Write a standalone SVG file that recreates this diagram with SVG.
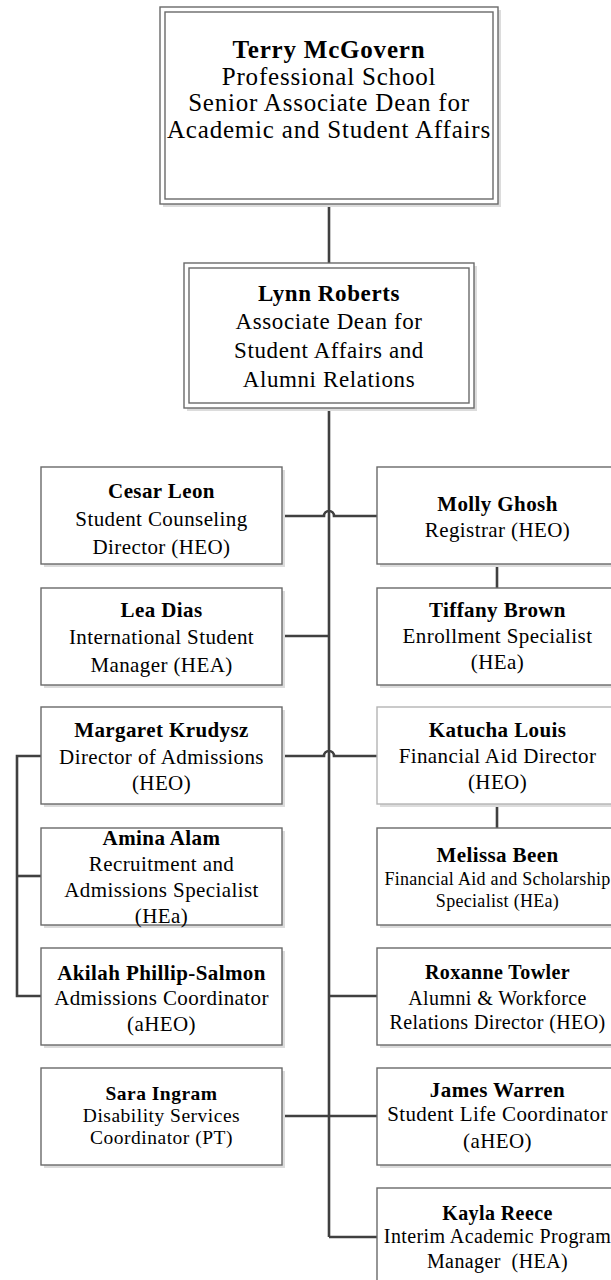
<svg xmlns="http://www.w3.org/2000/svg" width="611" height="1280" viewBox="0 0 611 1280">
<style>
.bg{fill:#ffffff}
.sh{fill:#dcdcdc}
.bx{fill:#ffffff;stroke:#6a6a6a;stroke-width:1.4}
.bxl{fill:#ffffff;stroke:#b4b4b4;stroke-width:1.4}
.cn{fill:none;stroke:#404040;stroke-width:2.6}
text{font-family:"Liberation Serif","Times New Roman",serif;fill:#000;text-anchor:middle}
.t1{font-size:25px;letter-spacing:0.8px}
.t2{font-size:23px;letter-spacing:0.6px}
.t3{font-size:21px;letter-spacing:0.4px}
.t4{font-size:18px;letter-spacing:0.3px}
.t5{font-size:20px;letter-spacing:0.4px}
.t6{font-size:19.5px;letter-spacing:0.5px}
.b{font-weight:bold}
</style>
<rect class="bg" x="0" y="0" width="611" height="1280"/>
<g id="connectors">
<path class="cn" d="M329,204 V263"/>
<path class="cn" d="M329,408 V1237"/>
<path class="cn" d="M282,516 H324 A5,5 0 0 1 334,516 H377"/>
<path class="cn" d="M282,636 H329"/>
<path class="cn" d="M497,564 V588"/>
<path class="cn" d="M282,756 H324 A5,5 0 0 1 334,756 H377"/>
<path class="cn" d="M497,804 V828"/>
<path class="cn" d="M41,756 H17 V996 H41"/>
<path class="cn" d="M17,876 H41"/>
<path class="cn" d="M329,996 H377"/>
<path class="cn" d="M282,1116 H377"/>
<path class="cn" d="M329,1237 H377"/>
</g>
<g id="terry">
<rect class="sh" x="163" y="10" width="338" height="197"/>
<rect class="bx" x="160" y="7" width="338" height="197"/>
<rect class="bx" x="165" y="12" width="328" height="187"/>
<text class="t1 b" x="329" y="58">Terry McGovern</text>
<text class="t1" x="329" y="84.5">Professional School</text>
<text class="t1" x="329" y="111">Senior Associate Dean for</text>
<text class="t1" x="329" y="137.5">Academic and Student Affairs</text>
</g>
<g id="lynn">
<rect class="sh" x="187" y="266" width="290" height="145"/>
<rect class="bx" x="184" y="263" width="290" height="145"/>
<rect class="bx" x="189" y="268" width="280" height="135"/>
<text class="t2 b" x="329" y="301">Lynn Roberts</text>
<text class="t2" x="329" y="329">Associate Dean for</text>
<text class="t2" x="329" y="358">Student Affairs and</text>
<text class="t2" x="329" y="387">Alumni Relations</text>
</g>
<g id="cesar">
<rect class="sh" x="44" y="470" width="241" height="97"/>
<rect class="bx" x="41" y="467" width="241" height="97"/>
<text class="t3 b" x="161.5" y="498">Cesar Leon</text>
<text class="t3" x="161.5" y="526">Student Counseling</text>
<text class="t3" x="161.5" y="554">Director (HEO)</text>
</g>
<g id="molly">
<rect class="sh" x="380" y="470" width="241" height="97"/>
<rect class="bx" x="377" y="467" width="241" height="97"/>
<text class="t3 b" x="497.5" y="511">Molly Ghosh</text>
<text class="t3" x="497.5" y="537">Registrar (HEO)</text>
</g>
<g id="lea">
<rect class="sh" x="44" y="591" width="241" height="97"/>
<rect class="bx" x="41" y="588" width="241" height="97"/>
<text class="t3 b" x="161.5" y="617">Lea Dias</text>
<text class="t3" x="161.5" y="644">International Student</text>
<text class="t3" x="161.5" y="672">Manager (HEA)</text>
</g>
<g id="tiffany">
<rect class="sh" x="380" y="591" width="241" height="97"/>
<rect class="bx" x="377" y="588" width="241" height="97"/>
<text class="t3 b" x="497.5" y="617">Tiffany Brown</text>
<text class="t3" x="497.5" y="643">Enrollment Specialist</text>
<text class="t3" x="497.5" y="669">(HEa)</text>
</g>
<g id="margaret">
<rect class="sh" x="44" y="710" width="241" height="97"/>
<rect class="bx" x="41" y="707" width="241" height="97"/>
<text class="t3 b" x="161.5" y="737">Margaret Krudysz</text>
<text class="t3" x="161.5" y="764">Director of Admissions</text>
<text class="t3" x="161.5" y="790">(HEO)</text>
</g>
<g id="katucha">
<rect class="sh" x="380" y="710" width="241" height="97"/>
<rect class="bxl" x="377" y="707" width="241" height="97"/>
<text class="t3 b" x="497.5" y="737">Katucha Louis</text>
<text class="t3" x="497.5" y="763">Financial Aid Director</text>
<text class="t3" x="497.5" y="789">(HEO)</text>
</g>
<g id="amina">
<rect class="sh" x="44" y="831" width="241" height="97"/>
<rect class="bx" x="41" y="828" width="241" height="97"/>
<text class="t3 b" x="161.5" y="845">Amina Alam</text>
<text class="t3" x="161.5" y="871">Recruitment and</text>
<text class="t3" x="161.5" y="897">Admissions Specialist</text>
<text class="t3" x="161.5" y="923">(HEa)</text>
</g>
<g id="melissa">
<rect class="sh" x="380" y="831" width="241" height="97"/>
<rect class="bx" x="377" y="828" width="241" height="97"/>
<text class="t3 b" x="497.5" y="862">Melissa Been</text>
<text class="t4" x="497.5" y="885">Financial Aid and Scholarship</text>
<text class="t4" x="497.5" y="907">Specialist (HEa)</text>
</g>
<g id="akilah">
<rect class="sh" x="44" y="951" width="241" height="97"/>
<rect class="bx" x="41" y="948" width="241" height="97"/>
<text class="t3 b" x="161.5" y="980">Akilah Phillip-Salmon</text>
<text class="t3" x="161.5" y="1005">Admissions Coordinator</text>
<text class="t3" x="161.5" y="1031">(aHEO)</text>
</g>
<g id="roxanne">
<rect class="sh" x="380" y="951" width="241" height="97"/>
<rect class="bx" x="377" y="948" width="241" height="97"/>
<text class="t5 b" x="497.5" y="979">Roxanne Towler</text>
<text class="t5" x="497.5" y="1005">Alumni &amp; Workforce</text>
<text class="t5" x="497.5" y="1029">Relations Director (HEO)</text>
</g>
<g id="sara">
<rect class="sh" x="44" y="1071" width="241" height="97"/>
<rect class="bx" x="41" y="1068" width="241" height="97"/>
<text class="t6 b" x="161.5" y="1100">Sara Ingram</text>
<text class="t6" x="161.5" y="1122">Disability Services</text>
<text class="t6" x="161.5" y="1144">Coordinator (PT)</text>
</g>
<g id="james">
<rect class="sh" x="380" y="1071" width="241" height="97"/>
<rect class="bx" x="377" y="1068" width="241" height="97"/>
<text class="t3 b" x="497.5" y="1097">James Warren</text>
<text class="t3" x="497.5" y="1121">Student Life Coordinator</text>
<text class="t3" x="497.5" y="1148">(aHEO)</text>
</g>
<g id="kayla">
<rect class="sh" x="380" y="1191" width="241" height="97"/>
<rect class="bx" x="377" y="1188" width="241" height="97"/>
<text class="t5 b" x="497.5" y="1220">Kayla Reece</text>
<text class="t5" x="497.5" y="1243">Interim Academic Program</text>
<text class="t5" x="497.5" y="1268" style="white-space:pre">Manager  (HEA)</text>
</g>
</svg>
